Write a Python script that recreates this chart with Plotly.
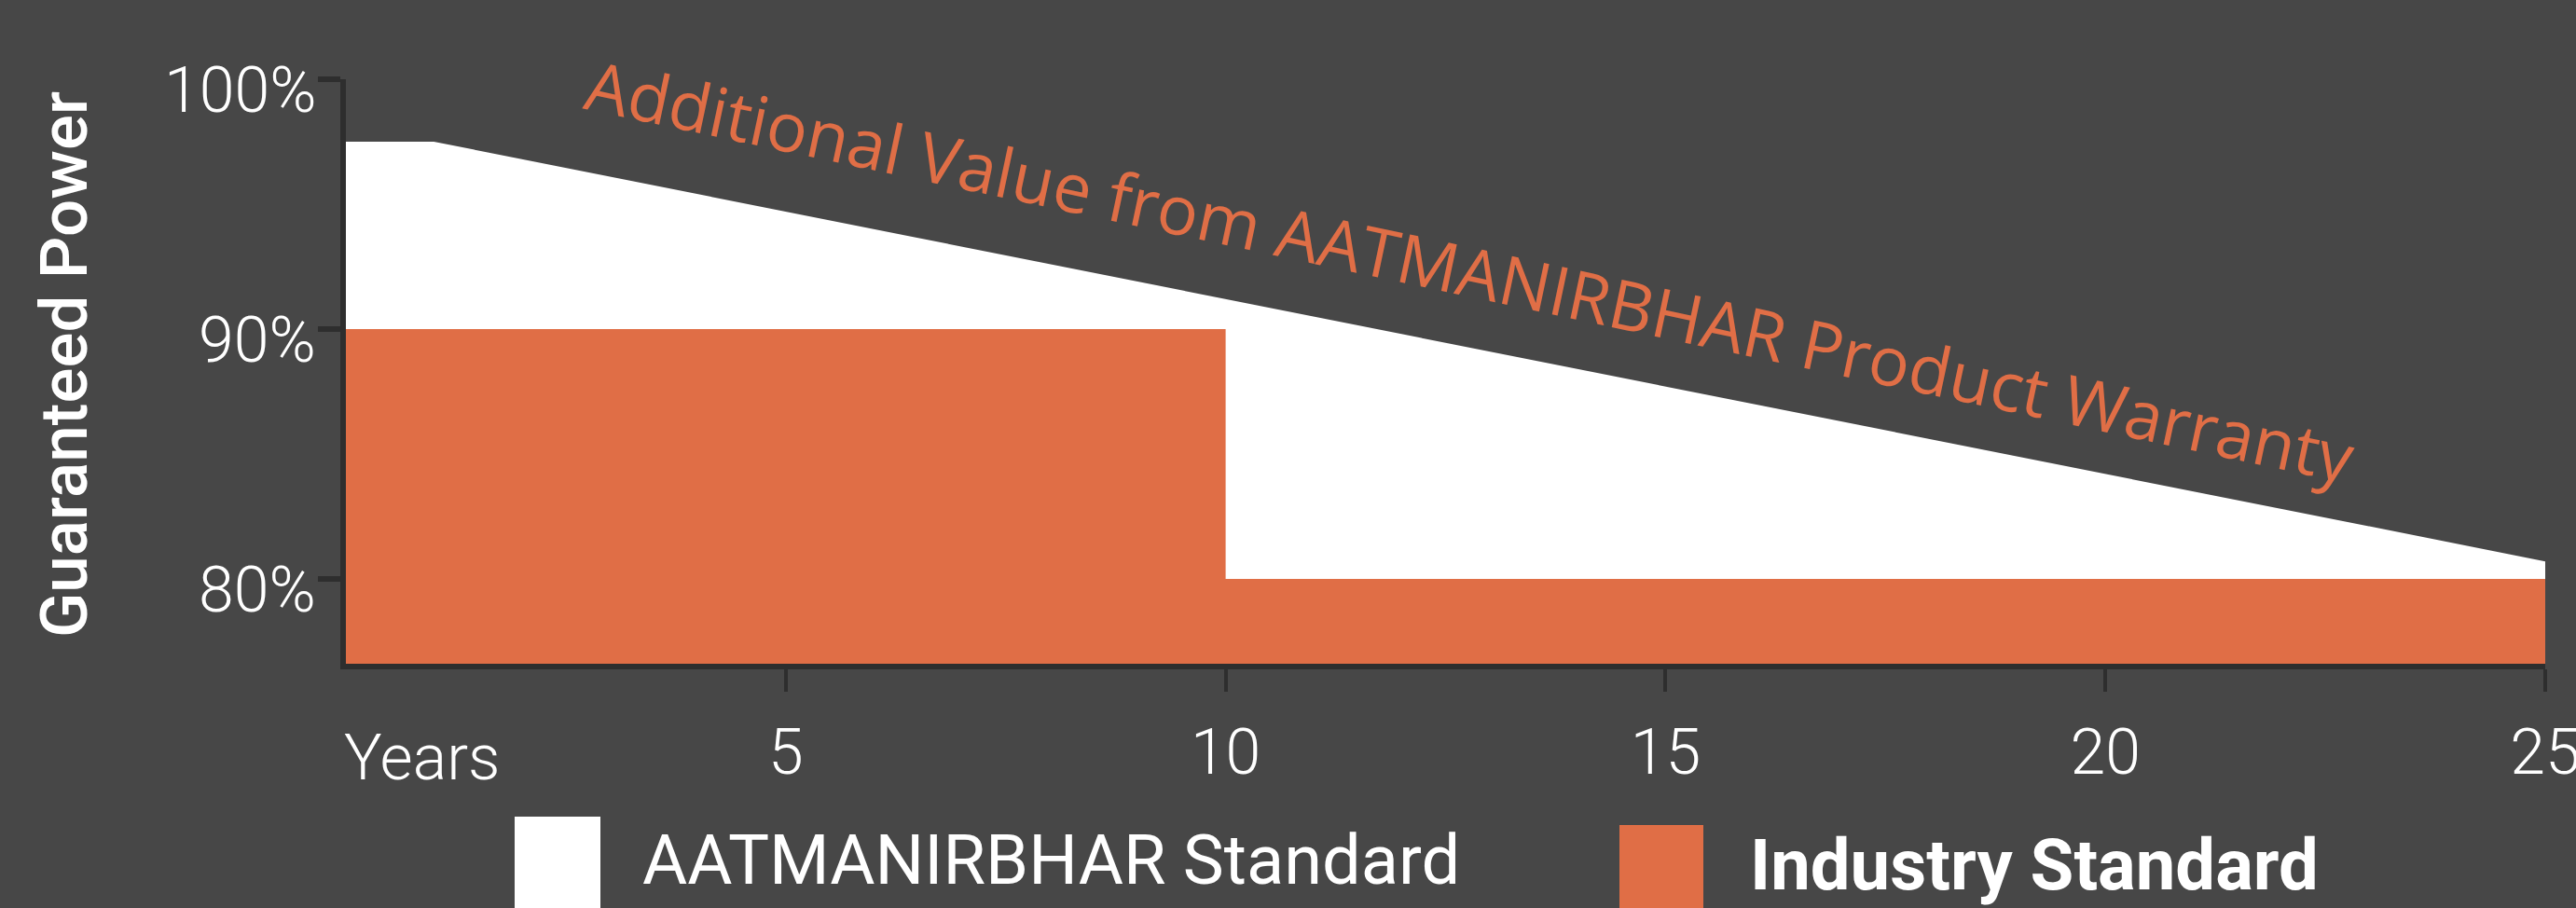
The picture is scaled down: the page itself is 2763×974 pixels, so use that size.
import plotly.graph_objects as go

# ---- data ----
aat_years = [0, 1, 25]
aat_power = [97.5, 97.5, 80.7]
ind_years = [0, 10, 25]
ind_power = [90, 80, 80]
x_tick_vals = [5, 10, 15, 20, 25]
x_tick_text = ["5", "10", "15", "20", "25"]
y_tick_vals = [80, 90, 100]
y_tick_text = ["80%", "90%", "100%"]
series_names = ["AATMANIRBHAR Standard", "Industry Standard"]

BG = "#474747"
ORANGE = "#E06E46"
WHITE = "#FFFFFF"
AXIS = "#2E2E2E"

W, H = 2763, 974
L, R, T, B = 371, 33, 85, 262
pw, ph = W - L - R, H - T - B


def px(xp):
    return (xp - L) / pw


def py(yp):
    return (H - B - yp) / ph


fig = go.Figure()
fig.add_trace(go.Scatter(x=aat_years, y=aat_power, mode="lines", fill="tozeroy",
                         fillcolor=WHITE, line=dict(color=WHITE, width=0),
                         name=series_names[0], showlegend=False, hoverinfo="skip"))
fig.add_trace(go.Scatter(x=ind_years, y=ind_power, mode="lines", fill="tozeroy",
                         line_shape="hv", fillcolor=ORANGE, line=dict(color=ORANGE, width=0),
                         name=series_names[1], showlegend=False, hoverinfo="skip"))

tick_font = dict(family="Roboto", size=68, color=WHITE, weight=300)

fig.update_xaxes(range=[0, 25], tickvals=x_tick_vals, ticktext=x_tick_text,
                 showgrid=False, zeroline=False, showline=True, linecolor=AXIS, linewidth=6,
                 ticks="outside", ticklen=24, tickwidth=4, tickcolor=AXIS,
                 tickfont=tick_font, ticklabelstandoff=6, ticklabeloverflow="allow",
                 automargin=False)
fig.update_yaxes(range=[76.6, 100], tickvals=y_tick_vals, showticklabels=False,
                 showgrid=False, zeroline=False, showline=True, linecolor=AXIS, linewidth=6,
                 ticks="outside", ticklen=24, tickwidth=6, tickcolor=AXIS,
                 automargin=False)

annotations = [
    dict(text="Guaranteed Power", xref="paper", yref="paper", x=px(68), y=py(391),
         xanchor="center", yanchor="middle", textangle=-90, showarrow=False,
         font=dict(family="Roboto", size=71, color=WHITE, weight=500)),
    dict(text="Additional Value from AATMANIRBHAR Product Warranty", xref="x", yref="y",
         x=12.78, y=92.35, xanchor="center", yanchor="middle", textangle=12,
         showarrow=False, font=dict(family="Open Sans", size=73, color=ORANGE, weight=500)),
    dict(text="Years", xref="paper", yref="paper", x=px(367), y=py(813),
         xanchor="left", yanchor="middle", showarrow=False, font=tick_font),
    dict(text=series_names[0], xref="paper", yref="paper", x=px(687), y=py(922),
         xanchor="left", yanchor="middle", showarrow=False,
         font=dict(family="Roboto", size=74, color=WHITE, weight=400)),
    dict(text=series_names[1], xref="paper", yref="paper", x=px(1875), y=py(928),
         xanchor="left", yanchor="middle", showarrow=False,
         font=dict(family="Roboto", size=76, color=WHITE, weight=700)),
]
for v, t in zip(y_tick_vals, y_tick_text):
    annotations.append(dict(text=t, xref="paper", yref="y", x=px(341), y=v,
                            xanchor="right", yanchor="middle", yshift=-12,
                            showarrow=False, font=tick_font))

shapes = [
    dict(type="rect", xref="paper", yref="paper", x0=px(552), x1=px(644), y0=py(876), y1=py(1000),
         fillcolor=WHITE, line=dict(width=0)),
    dict(type="rect", xref="paper", yref="paper", x0=px(1737), x1=px(1827), y0=py(885), y1=py(1000),
         fillcolor=ORANGE, line=dict(width=0)),
]

fig.update_layout(width=W, height=H, margin=dict(l=L, r=R, t=T, b=B),
                  paper_bgcolor=BG, plot_bgcolor=BG, showlegend=False,
                  annotations=annotations, shapes=shapes)

fig.write_html("out.html", config={"displayModeBar": False},
               post_script="document.body.style.margin='0';document.body.style.overflow='hidden';")
